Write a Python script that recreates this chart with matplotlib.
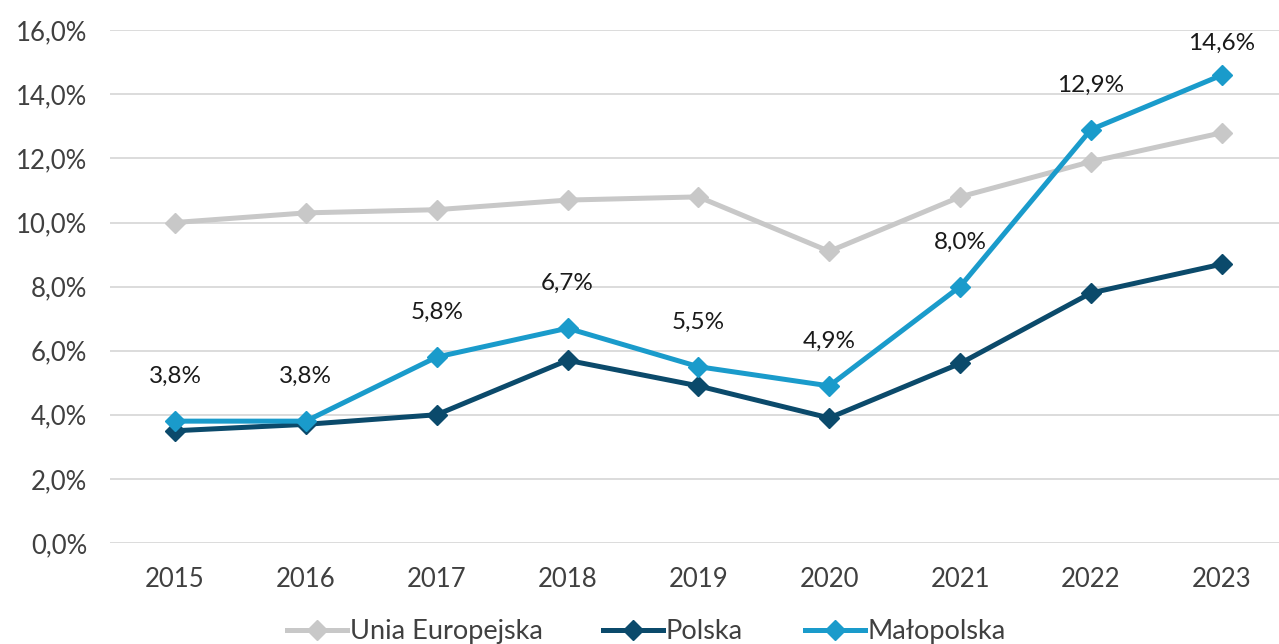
import matplotlib
matplotlib.use("Agg")
import matplotlib.pyplot as plt
from matplotlib.ticker import FuncFormatter

plt.rcParams['font.family'] = ['Lato', 'DejaVu Sans']

years = [2015, 2016, 2017, 2018, 2019, 2020, 2021, 2022, 2023]
eu = [10.0, 10.3, 10.4, 10.7, 10.8, 9.1, 10.8, 11.9, 12.8]
polska = [3.5, 3.7, 4.0, 5.7, 4.9, 3.9, 5.6, 7.8, 8.7]
malopolska = [3.8, 3.8, 5.8, 6.7, 5.5, 4.9, 8.0, 12.9, 14.6]

series_names = ["Unia Europejska", "Polska", "Małopolska"]
series_colors = ["#C8C8C8", "#0B4A6B", "#1A9BCB"]


def pl_pct(v, pos=None):
    return f"{v:.1f}%".replace(".", ",")


fig = plt.figure(figsize=(12.79, 6.44), dpi=100)
ax = fig.add_axes([0.0857, 0.157, 0.9207, 0.796])

x = list(range(len(years)))
lines = []
for vals, name, col in zip([eu, polska, malopolska], series_names, series_colors):
    ln, = ax.plot(x, vals, color=col, lw=3.6, marker='D', markersize=10.5,
                  label=name, zorder=3)
    lines.append(ln)

# value labels above the Małopolska points
for i, v in enumerate(malopolska):
    dy = 32 if i < len(malopolska) - 1 else 23
    ax.annotate(pl_pct(v), (i, v), xytext=(0, dy), textcoords='offset points',
                ha='center', va='center', fontsize=17.5, color='#1a1a1a')

ax.set_xlim(-0.5, len(years) - 0.5)
ax.set_ylim(0, 16)
ax.set_yticks(range(0, 17, 2))
ax.yaxis.set_major_formatter(FuncFormatter(pl_pct))
ax.set_xticks(x)
ax.set_xticklabels([str(y) for y in years])
ax.tick_params(axis='both', length=0, labelsize=18.5, labelcolor='#404040')
ax.tick_params(axis='x', pad=17)
ax.tick_params(axis='y', pad=16)
ax.grid(axis='y', color='#D9D9D9', lw=1.3)
ax.set_axisbelow(True)
for s in ax.spines.values():
    s.set_visible(False)

# one small legend per series, spaced like the original layout
legend_x = [0.2244, 0.4715, 0.6294]
for ln, lx in zip(lines, legend_x):
    leg = fig.legend(handles=[ln], loc='center left', bbox_to_anchor=(lx, 0.019),
                     frameon=False, fontsize=19.5, handlelength=2.2,
                     handletextpad=0.11, borderpad=0, borderaxespad=0)
    for t in leg.get_texts():
        t.set_color('#404040')

fig.savefig("out.png", dpi=100)
